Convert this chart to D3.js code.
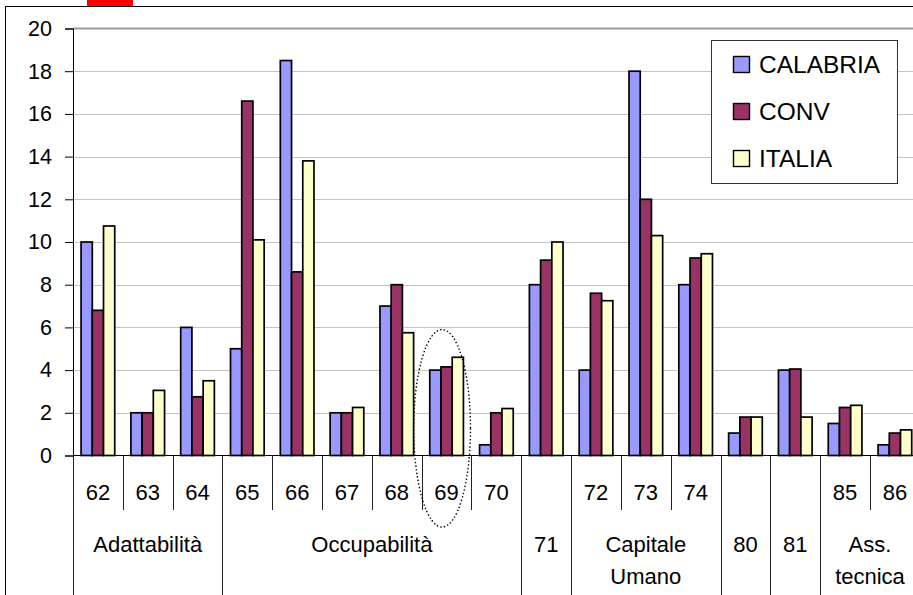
<!DOCTYPE html>
<html>
<head>
<meta charset="utf-8">
<script src="https://cdn.jsdelivr.net/npm/d3@7.9.0/dist/d3.min.js"></script>
<style>
  body { margin: 0; background: #fff; }
  svg { display: block; font-family: "Liberation Sans", Arial, sans-serif; }
</style>
</head>
<body>
<div id="chart"></div>
<script>
// categories (measure codes) and their first-level labels
const categories = ["62", "63", "64", "65", "66", "67", "68", "69", "70", "71", "72", "73", "74", "80", "81", "85", "86"];
const subLabels = ["62", "63", "64", "65", "66", "67", "68", "69", "70", "", "72", "73", "74", "", "", "85", "86"];

// second-level groups: label lines and how many categories they span
const groupLabels = [["Adattabilità"], ["Occupabilità"], ["71"], ["Capitale", "Umano"], ["80"], ["81"], ["Ass.", "tecnica"]];
const groupSizes = [3, 6, 1, 3, 1, 1, 2];

const seriesNames = ["CALABRIA", "CONV", "ITALIA"];
const calabria = [10, 2, 6, 5, 18.5, 2, 7, 4, 0.5, 8, 4, 18, 8, 1.05, 4, 1.5, 0.5];
const conv = [6.8, 2, 2.75, 16.6, 8.6, 2, 8, 4.15, 2, 9.15, 7.6, 12, 9.25, 1.8, 4.05, 2.25, 1.05];
const italia = [10.75, 3.05, 3.5, 10.1, 13.8, 2.25, 5.75, 4.6, 2.2, 10, 7.25, 10.3, 9.45, 1.8, 1.8, 2.35, 1.2];
const yTicks = [0, 2, 4, 6, 8, 10, 12, 14, 16, 18, 20];

const CFG = {
  WIDTH: 913,
  HEIGHT: 595,
  LEFT: 73,
  RIGHT: 919.8,   // plot runs a bit past the window edge
  TOP: 28.5,
  BOTTOM: 455.5,
  COLORS: ["#9999FF", "#993366", "#FFFFCC"]
};

const svg = d3.select("#chart").append("svg")
  .attr("width", CFG.WIDTH)
  .attr("height", CFG.HEIGHT);

// outer chart frame + red marker at the top
svg.append("rect")
  .attr("x", 5.5).attr("y", 6.5)
  .attr("width", 1000).attr("height", 1000)
  .attr("fill", "#fff")
  .attr("stroke", "#000");

svg.append("rect")
  .attr("x", 87).attr("y", 0)
  .attr("width", 46).attr("height", 6)
  .attr("fill", "#FF0000");

const x0 = d3.scaleBand().domain(categories).range([CFG.LEFT, CFG.RIGHT]).padding(0);
const x1 = d3.scaleBand().domain(seriesNames).range([0, x0.bandwidth()]).paddingInner(0).paddingOuter(0.72);
const y = d3.scaleLinear().domain([0, 20]).range([CFG.BOTTOM, CFG.TOP]);

// gridlines
svg.append("g")
  .selectAll("line")
  .data(yTicks.filter(d => d > 0 && d < 20))
  .join("line")
  .attr("x1", CFG.LEFT).attr("x2", CFG.WIDTH)
  .attr("y1", d => Math.round(y(d)) + 0.5)
  .attr("y2", d => Math.round(y(d)) + 0.5)
  .attr("stroke", "#c4c4c4");

svg.append("line")
  .attr("x1", CFG.LEFT).attr("x2", CFG.WIDTH)
  .attr("y1", y(20)).attr("y2", y(20))
  .attr("stroke", "#9a9a9a")
  .attr("stroke-width", 2);

// bars
const seriesData = [calabria, conv, italia];
const table = categories.map((c, i) => ({
  cat: c,
  values: seriesNames.map((s, j) => ({ series: s, value: seriesData[j][i], color: CFG.COLORS[j] }))
}));

svg.append("g")
  .selectAll("g")
  .data(table)
  .join("g")
  .attr("transform", d => `translate(${x0(d.cat)},0)`)
  .selectAll("rect")
  .data(d => d.values)
  .join("rect")
  .attr("x", d => x1(d.series))
  .attr("y", d => y(d.value))
  .attr("width", x1.bandwidth())
  .attr("height", d => y(0) - y(d.value))
  .attr("fill", d => d.color)
  .attr("stroke", "#000")
  .attr("stroke-width", 1.7);

// y axis
const yAxis = svg.append("g")
  .attr("transform", `translate(${CFG.LEFT},0)`)
  .call(d3.axisLeft(y).tickValues(yTicks).tickSize(8).tickPadding(13).tickFormat(d3.format("d")));
yAxis.select(".domain").attr("stroke", "#000");
yAxis.selectAll(".tick line").attr("stroke", "#000");
yAxis.selectAll("text")
  .attr("font-size", 21.5)
  .attr("font-family", "Liberation Sans, Arial, sans-serif")
  .attr("fill", "#000");

// x axis line
svg.append("line")
  .attr("x1", CFG.LEFT).attr("x2", CFG.WIDTH)
  .attr("y1", CFG.BOTTOM).attr("y2", CFG.BOTTOM)
  .attr("stroke", "#000");

// multi-level category separators
const groupStarts = [];
let acc = 0;
groupSizes.forEach(n => { groupStarts.push(acc); acc += n; });

const bounds = d3.range(categories.length + 1).map(i => ({
  x: i < categories.length ? x0(categories[i]) : CFG.RIGHT,
  full: groupStarts.includes(i) || i === categories.length
}));

svg.append("g")
  .selectAll("line")
  .data(bounds)
  .join("line")
  .attr("x1", d => Math.round(d.x) + 0.5)
  .attr("x2", d => Math.round(d.x) + 0.5)
  .attr("y1", CFG.BOTTOM)
  .attr("y2", d => d.full ? CFG.HEIGHT : 510)
  .attr("stroke", "#222");

// first-level labels
svg.append("g")
  .selectAll("text")
  .data(categories)
  .join("text")
  .attr("x", d => x0(d) + x0.bandwidth() / 2)
  .attr("y", 500)
  .attr("text-anchor", "middle")
  .attr("font-size", 22)
  .text((d, i) => subLabels[i]);

// second-level labels
const groupG = svg.append("g");
groupLabels.forEach((lines, gi) => {
  const start = x0(categories[groupStarts[gi]]);
  const end = start + groupSizes[gi] * x0.step();
  lines.forEach((t, li) => {
    groupG.append("text")
      .attr("x", (start + end) / 2)
      .attr("y", 552 + li * 32)
      .attr("text-anchor", "middle")
      .attr("font-size", 22)
      .text(t);
  });
});

// dotted ellipse around measure 69
const e0 = x0("69");
svg.append("ellipse")
  .attr("cx", e0 + x0.bandwidth() * 0.41)
  .attr("cy", (y(5.9) + y(-3.35)) / 2)
  .attr("rx", x0.bandwidth() * 0.57)
  .attr("ry", (y(-3.35) - y(5.9)) / 2)
  .attr("fill", "none")
  .attr("stroke", "#000")
  .attr("stroke-width", 1.4)
  .attr("stroke-dasharray", "1.4,2.2");

// legend
const legend = svg.append("g").attr("transform", "translate(711.5,40.5)");
legend.append("rect")
  .attr("width", 186).attr("height", 143)
  .attr("fill", "#fff")
  .attr("stroke", "#333");

seriesNames.forEach((name, i) => {
  const ly = 16 + i * 47;
  legend.append("rect")
    .attr("x", 22).attr("y", ly)
    .attr("width", 16).attr("height", 16)
    .attr("fill", CFG.COLORS[i])
    .attr("stroke", "#000")
    .attr("stroke-width", 1.4);
  legend.append("text")
    .attr("x", 47.5).attr("y", ly + 16.5)
    .attr("font-size", 24.5)
    .text(name);
});
</script>
</body>
</html>
